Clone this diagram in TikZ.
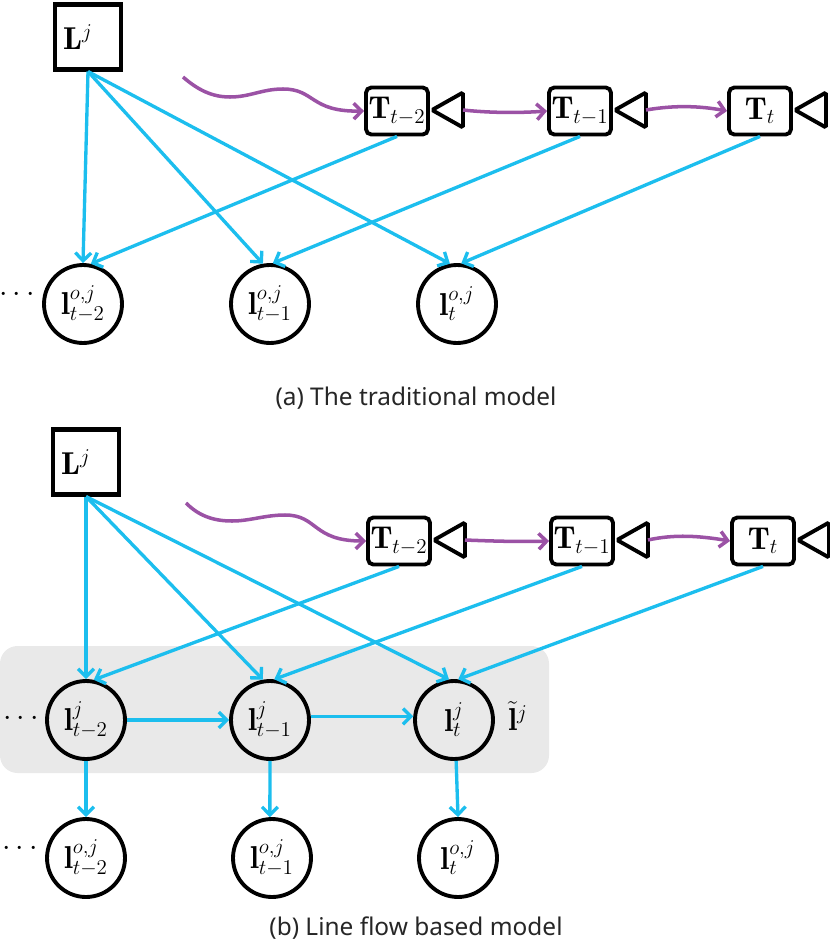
\documentclass[tikz,border=0pt]{standalone}
\usepackage{fontspec}
\setsansfont{Noto Sans}
\usetikzlibrary{shapes.geometric,arrows.meta}
\definecolor{linkblue}{RGB}{28,190,238}
\definecolor{camviolet}{RGB}{155,82,165}
\definecolor{panelgrey}{RGB}{233,233,233}
\tikzset{
  mathnode/.style={font=\fontsize{18}{22}\selectfont,inner sep=0pt},
  landmark/.style={mathnode,draw,line width=2.3pt,minimum width=1.32cm,minimum height=1.3cm},
  cambox/.style={mathnode,draw,line width=2.2pt,rounded corners=3pt,minimum width=1.24cm,minimum height=0.94cm},
  lens/.style={draw,line width=2.2pt,rounded corners=1pt,isosceles triangle,isosceles triangle stretches,shape border rotate=180,minimum width=0.7cm,minimum height=0.62cm,inner sep=0pt,outer sep=0pt},
  flow/.style={mathnode,draw,circle,line width=2.2pt,minimum size=1.56cm,fill=white},
  link/.style={linkblue,line width=1.9pt,-{Straight Barb[length=4.5pt,width=9pt]}},
  motion/.style={camviolet,line width=2pt,-{Straight Barb[length=4.5pt,width=9pt]}},
  caption/.style={font=\sffamily\fontsize{13.9}{16}\selectfont,text=black!85,inner sep=0pt}
}
\begin{document}
\begin{tikzpicture}[x=0.02cm,y=-0.02cm]
\useasboundingbox (0,0) rectangle (830,946);
% (a) traditional model
\node[landmark] (La) at (88,37) {$\mathbf{L}^{j}$\kern0.4cm};
\foreach \n/\x/\s in {1/397/{t-2},2/580/{t-1},3/760/t} {
  \node[cambox] (Ta\n) at (\x,111) {$\mathbf{T}_{\s}$};
  \node[lens,anchor=apex] (Ca\n) at (\x+35,110) {};
}
\foreach \n/\x/\s in {1/83/{t-2},2/270/{t-1},3/457/t}
  \node[flow] (oa\n) at (\x,304) {$\mathbf{l}^{o,j}_{\s}$};
\node[mathnode] (dotsa) at (17,295) {$\cdots$};
\coordinate (starta) at (183,77);
\draw[motion] (starta) .. controls (198,90) and (212,97) .. (230,97) .. controls (250,97) and (262,89) .. (283,89) .. controls (315,89) and (310,112) .. (Ta1.west);
\draw[motion] (Ca1.lower side) .. controls (490,113) and (520,113) .. (Ta2.west);
\draw[motion] (Ca2.lower side) .. controls (675,105) and (700,106) .. (Ta3.west);
\foreach \n/\a/\b in {1/90/79,2/100/86,3/100/84} {
  \draw[link] (La.south) -- (oa\n.\a);
  \draw[link] (Ta\n.south) -- (oa\n.\b);
}
\node[caption] (capa) at (416,398) {(a) The traditional model};
% (b) line flow based model
\fill[panelgrey,rounded corners=10pt] (0,646) rectangle (549,773);
\node[landmark] (Lb) at (86,462) {$\mathbf{L}^{j}$\kern0.4cm};
\foreach \n/\x/\s in {1/399/{t-2},2/582/{t-1},3/763/t} {
  \node[cambox] (Tb\n) at (\x,541) {$\mathbf{T}_{\s}$};
  \node[lens,anchor=apex] (Cb\n) at (\x+35,540) {};
}
\foreach \n/\x/\s in {1/86/{t-2},2/270/{t-1},3/454/t}
  \node[flow,fill=none] (lb\n) at (\x,720) {$\mathbf{l}^{j}_{\s}$};
\foreach \n/\x/\s in {1/86/{t-2},2/272/{t-1},3/458/t}
  \node[flow] (ob\n) at (\x,858) {$\mathbf{l}^{o,j}_{\s}$};
\node[mathnode] (dotsb) at (21,719) {$\cdots$};
\node[mathnode] (dotsc) at (20,849) {$\cdots$};
\node[mathnode] (lifted) at (518,716) {$\tilde{\mathbf{l}}^{j}$};
\coordinate (startb) at (186,503);
\draw[motion] (startb) .. controls (198,515) and (212,521) .. (232,521) .. controls (250,521) and (265,515) .. (285,515) .. controls (318,515) and (312,541) .. (Tb1.west);
\draw[motion] (Cb1.lower side) .. controls (490,541) and (520,542) .. (Tb2.west);
\draw[motion] (Cb2.lower side) .. controls (675,534) and (700,536) .. (Tb3.west);
\foreach \n/\a/\b in {1/90/79,2/100/84,3/97/84} {
  \draw[link] (Lb.south) -- (lb\n.\a);
  \draw[link] (Tb\n.south) -- (lb\n.\b);
}
\foreach \n/\a/\c in {1/270/90,2/270/93,3/273/90}
  \draw[link] (lb\n.\a) -- (ob\n.\c);
\draw[link] (lb1.east) -- (lb2.west);
\draw[link] (lb2.5) -- (lb3.175);
\node[caption] (capb) at (416,928) {(b) Line flow based model};
\end{tikzpicture}
\end{document}
